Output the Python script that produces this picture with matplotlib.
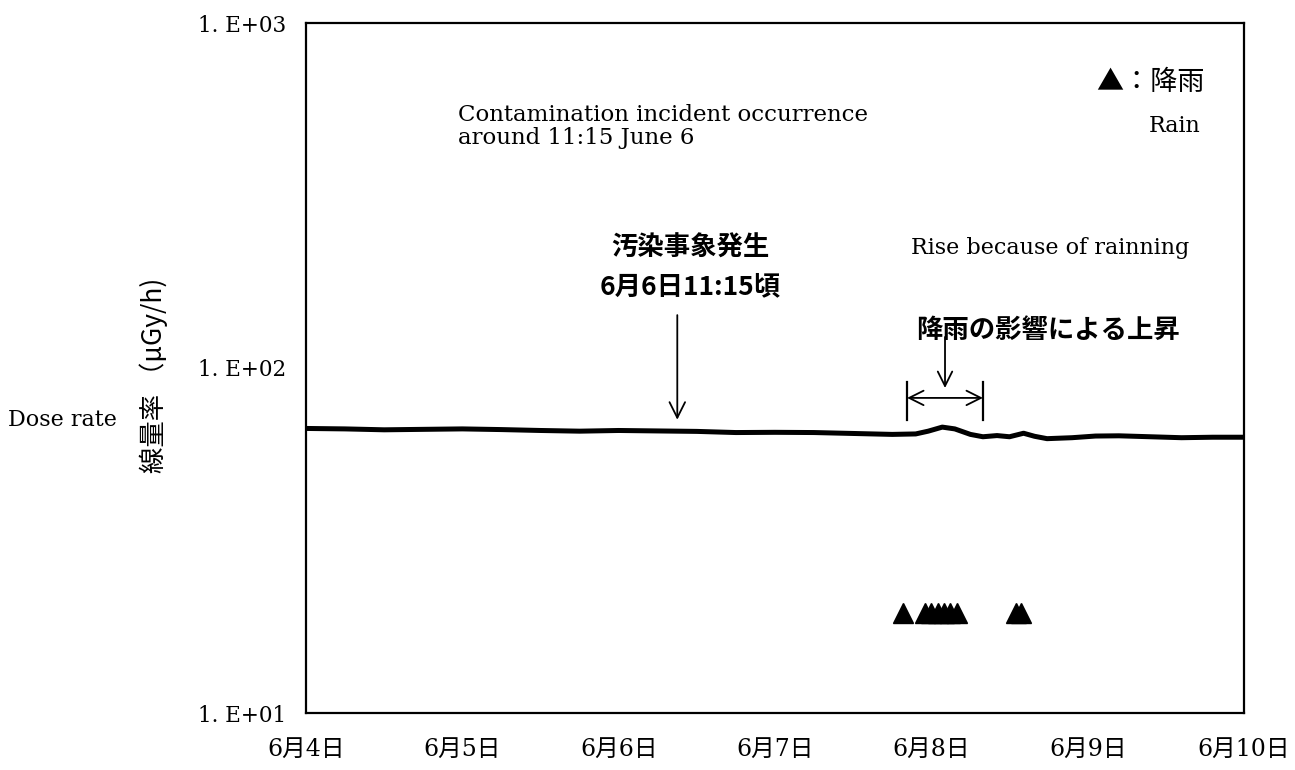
import datetime as dt

import matplotlib
matplotlib.use("Agg")
from matplotlib import pyplot as plt

JP = ["Noto Sans CJK JP", "DejaVu Sans"]
SERIF = "DejaVu Serif"
TICKFONT = ["DejaVu Serif", "Noto Sans CJK JP"]

start = dt.datetime(2017, 6, 4)

# dose rate trace (days after 6/4 00:00, uGy/h)
dose_days = [0.0, 0.25, 0.5, 0.75, 1.0, 1.25, 1.5, 1.75, 2.0, 2.25, 2.5, 2.75,
             3.0, 3.25, 3.5, 3.75, 3.9, 3.98, 4.07, 4.15, 4.25, 4.33, 4.42,
             4.5, 4.59, 4.66, 4.74, 4.9, 5.05, 5.2, 5.4, 5.6, 5.8, 6.0]
dose_vals = [66.8, 66.6, 66.2, 66.4, 66.6, 66.3, 65.9, 65.6, 65.9, 65.7, 65.5, 65.0,
             65.1, 65.0, 64.6, 64.2, 64.4, 65.6, 67.4, 66.6, 64.2, 63.2, 63.7,
             63.2, 64.7, 63.4, 62.4, 62.8, 63.5, 63.6, 63.2, 62.8, 63.0, 63.0]

# rain observations
rain_days = [3.82, 3.96, 4.0, 4.04, 4.08, 4.12, 4.165, 4.54, 4.575]
rain_vals = [19.5] * len(rain_days)

event_day = 2.375          # contamination incident arrow
rise_span = (3.845, 4.33)  # range affected by rain

xtick_labels = ["6月4日", "6月5日", "6月6日", "6月7日", "6月8日", "6月9日", "6月10日"]
ytick_vals = [10, 100, 1000]
ytick_labels = ["1. E+01", "1. E+02", "1. E+03"]


def day(d):
    return start + dt.timedelta(days=d)


def px(x, y):
    return x / 1295, 1 - y / 770


fig = plt.figure(figsize=(12.95, 7.70), dpi=100)
ax = fig.add_axes([306 / 1295, 1 - 713 / 770, 938 / 1295, 690 / 770])

ax.plot([day(d) for d in dose_days], dose_vals, color="black", lw=3.6,
        solid_capstyle="round")
ax.plot([day(d) for d in rain_days], rain_vals, ls="none", marker="^",
        color="black", markersize=14)

ax.set_yscale("log")
ax.set_ylim(10, 1000)
ax.set_xlim(day(0), day(6))
ax.set_yticks(ytick_vals)
ax.set_yticklabels(ytick_labels, family=SERIF, fontsize=15.5)
ax.yaxis.set_minor_locator(plt.NullLocator())
ax.set_xticks([day(i) for i in range(7)])
ax.set_xticklabels(xtick_labels, family=TICKFONT, fontsize=17)
ax.tick_params(length=0)
ax.tick_params(axis="y", pad=14)
ax.tick_params(axis="x", pad=18)
for s in ax.spines.values():
    s.set_linewidth(1.6)

ax.set_ylabel("線量率 （μGy/h)", family=JP, fontsize=19)
ax.yaxis.set_label_coords(-0.147, 0.49)
fig.text(*px(8, 420), "Dose rate", family=SERIF, fontsize=16, va="center")

# contamination incident
ax.annotate("", xy=(day(event_day), 69.5), xytext=(day(event_day), 145),
            arrowprops=dict(arrowstyle="->", color="black", lw=1.3,
                            mutation_scale=28))
fig.text(*px(690, 248), "汚染事象発生", family=JP, fontsize=19,
         fontweight="bold", ha="center", va="center")
fig.text(*px(690, 287), "6月6日11:15頃", family=JP, fontsize=19,
         fontweight="bold", ha="center", va="center")
fig.text(*px(458, 115), "Contamination incident occurrence", family=SERIF,
         fontsize=16.5, va="center")
fig.text(*px(458, 138), "around 11:15 June 6", family=SERIF,
         fontsize=16.5, va="center")

# rise due to rain
for x in rise_span:
    ax.plot([day(x), day(x)], [70.5, 91], color="black", lw=1.6)
ax.annotate("", xy=(day(rise_span[0]), 81.9), xytext=(day(rise_span[1]), 81.9),
            arrowprops=dict(arrowstyle="<->", color="black", lw=1.3,
                            mutation_scale=26, shrinkA=0, shrinkB=0))
mid = (rise_span[0] + rise_span[1]) / 2
ax.annotate("", xy=(day(mid), 87.5), xytext=(day(mid), 123),
            arrowprops=dict(arrowstyle="->", color="black", lw=1.3,
                            mutation_scale=26, shrinkA=0, shrinkB=0))
fig.text(*px(1048, 330), "降雨の影響による上昇", family=JP, fontsize=19,
         fontweight="bold", ha="center", va="center")
fig.text(*px(1050, 248), "Rise because of rainning", family=SERIF,
         fontsize=16, ha="center", va="center")

# legend
fig.text(*px(1205, 82), "▲：降雨", family=JP, fontsize=19.5, ha="right",
         va="center")
fig.text(*px(1200, 126), "Rain", family=SERIF, fontsize=16, ha="right",
         va="center")

fig.savefig("out.png", dpi=100, facecolor="white")
